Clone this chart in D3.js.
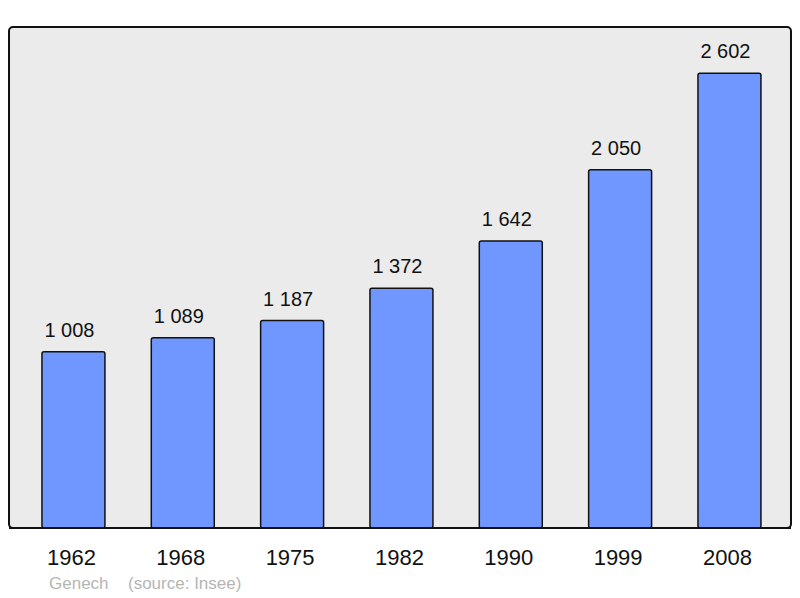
<!DOCTYPE html>
<html lang="en">
<head>
    <meta charset="UTF-8">
    <title>Genech population</title>
    <script src="https://d3js.org/d3.v7.min.js"></script>
    <style>
        body { margin: 0; background: #fff; font-family: "Liberation Sans", Arial, sans-serif; }
        svg { display: block; }
    </style>
</head>
<body>
    <svg id="canvas"></svg>
    <script>
        const years = ["1962", "1968", "1975", "1982", "1990", "1999", "2008"];
        const population = [1008, 1089, 1187, 1372, 1642, 2050, 2602];
        const commune = "Genech";
        const source = "(source: Insee)";

        const width = 800, height = 598;
        const svg = d3.select("#canvas").attr("width", width).attr("height", height);

        // plot panel
        const panel = { left: 9, top: 27, right: 791, bottom: 528 };

        svg.append("rect")
            .attr("x", panel.left).attr("y", panel.top)
            .attr("width", panel.right - panel.left)
            .attr("height", panel.bottom - panel.top)
            .attr("rx", 4)
            .attr("fill", "#ebebeb")
            .attr("stroke", "#111")
            .attr("stroke-width", 2);

        const x = d3.scaleBand()
            .domain(years)
            .range([-4.4, 807.3])
            .padding(0.424);

        const y = d3.scaleLinear()
            .domain([0, 2866])
            .range([panel.bottom, panel.top]);

        const data = years.map((yr, i) => ({ year: yr, value: population[i] }));
        const fmt = v => d3.format(",")(v).replace(/,/g, " ");

        svg.append("g")
            .selectAll("rect")
            .data(data)
            .join("rect")
            .attr("x", d => x(d.year))
            .attr("y", d => y(d.value))
            .attr("width", x.bandwidth())
            .attr("height", d => panel.bottom - y(d.value))
            .attr("rx", 2)
            .attr("fill", "#7097ff")
            .attr("stroke", "#111")
            .attr("stroke-width", 1.5);

        // redraw panel baseline over bar bottoms
        svg.append("line")
            .attr("x1", panel.left).attr("x2", panel.right)
            .attr("y1", panel.bottom).attr("y2", panel.bottom)
            .attr("stroke", "#111").attr("stroke-width", 2);

        svg.append("g")
            .selectAll("text")
            .data(data)
            .join("text")
            .attr("x", d => x(d.year) + x.bandwidth() / 2 - 4)
            .attr("y", d => y(d.value) - 15)
            .attr("text-anchor", "middle")
            .attr("font-size", 20)
            .attr("fill", "#111")
            .text(d => fmt(d.value));

        svg.append("g")
            .selectAll("text")
            .data(years)
            .join("text")
            .attr("x", d => x(d) + x.bandwidth() / 2 - 2)
            .attr("y", 565)
            .attr("text-anchor", "middle")
            .attr("font-size", 22)
            .attr("fill", "#111")
            .text(d => d);

        svg.append("text")
            .attr("x", 49).attr("y", 589)
            .attr("font-size", 17)
            .attr("fill", "#b5b5b5")
            .text(commune);

        svg.append("text")
            .attr("x", 128).attr("y", 589)
            .attr("font-size", 17)
            .attr("fill", "#b5b5b5")
            .text(source);
    </script>
</body>
</html>
